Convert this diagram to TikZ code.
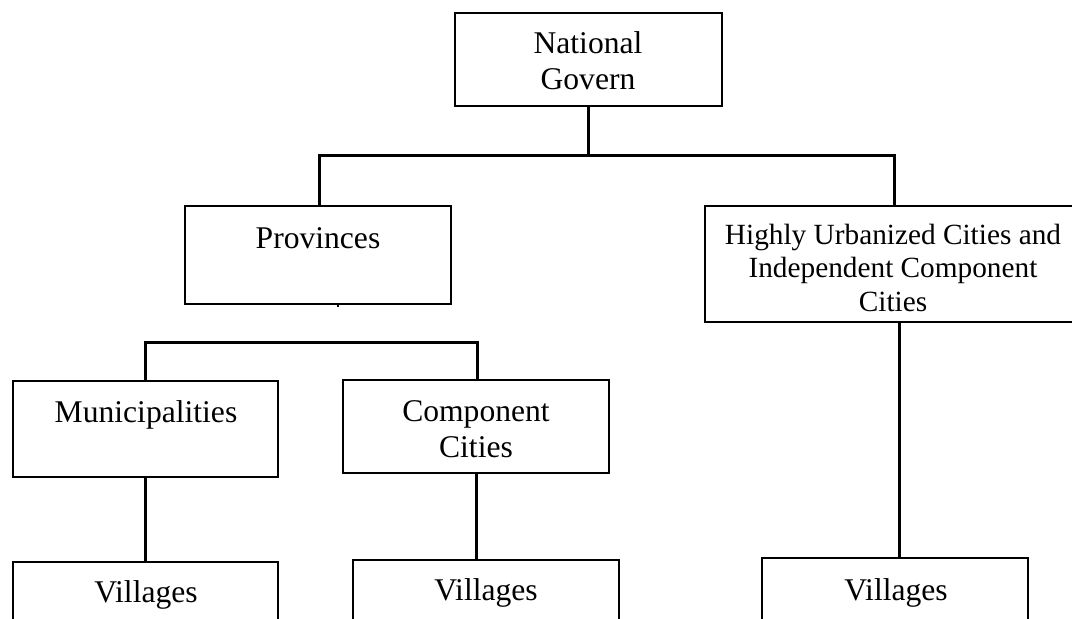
\documentclass[tikz,border=0pt]{standalone}
\usepackage{fontspec}
\setmainfont{Liberation Serif}
% centred lines whose baseline is that of the first line
\newcommand{\boxlines}[1]{\begin{tabular}[t]{@{}c@{}}#1\end{tabular}}
\tikzset{
  x=1pt, y=-1pt,
  orgbox/.style={draw, line width=2pt, inner sep=0pt, outer sep=0pt,
    anchor=north west, minimum width=266pt},
  label/.style={anchor=base, inner sep=0pt, outer sep=0pt,
    font=\fontsize{31.6}{36.5}\selectfont},
  small label/.style={label, font=\fontsize{29.3}{33.5}\selectfont},
  conn/.style={line width=3pt, line join=miter},
}
\begin{document}
\begin{tikzpicture}
\useasboundingbox (0,0) rectangle (1072,619);
\fill[white] (0,0) rectangle (1072,619);
\clip (0,0) rectangle (1072,619);

% boxes
\node[orgbox, minimum width=267pt, minimum height=93pt] (nat) at (455,13) {};
\node[orgbox, minimum height=98pt]  (prov) at (185,206) {};
\node[orgbox, minimum width=376pt, minimum height=116pt] (huc) at (705,206) {};
\node[orgbox, minimum width=265pt, minimum height=96pt]  (muni) at (13,381) {};
\node[orgbox, minimum height=93pt]  (comp) at (343,380) {};
\node[orgbox, minimum width=265pt, minimum height=90pt]  (vilA) at (13,562) {};
\node[orgbox, minimum height=90pt]  (vilB) at (353,560) {};
\node[orgbox, minimum height=90pt]  (vilC) at (762,558) {};

% texts
\node[label] (natT)  at (588,53)  {\boxlines{National\\Govern}};
\node[label] (provT) at (318,248) {Provinces};
\node[small label] (hucT) at (893,244)
  {\boxlines{Highly Urbanized Cities and\\Independent Component\\Cities}};
\node[label] (muniT) at (146,422) {Municipalities};
\node[label] (compT) at (476,421) {\boxlines{Component\\Cities}};
\node[label] (vilAT) at (146,602) {Villages};
\node[label] (vilBT) at (486,600) {Villages};
\node[label] (vilCT) at (896,600) {Villages};

% upper level connectors
\draw[conn] (nat.south) -- ++(0,49) coordinate (topbus);
\draw[conn] ([xshift=1pt]prov.north) |- (topbus) -| ([xshift=1pt]huc.north);

% short stub under the provinces box
\coordinate (stub) at ([xshift=20pt]prov.south);
\draw[line width=1.5pt] (stub) -- ++(0,3);

% provinces level connectors
\draw[conn] (muni.north) -- ++(0,-39) -| ([xshift=1pt]comp.north);

% down to the villages
\draw[conn] (muni.south) -- (vilA.north);
\draw[conn] (comp.south) -- (comp.south |- vilB.north);
\draw[conn] ([xshift=4pt]vilC.north |- huc.south) -- ([xshift=4pt]vilC.north);
\end{tikzpicture}
\end{document}
